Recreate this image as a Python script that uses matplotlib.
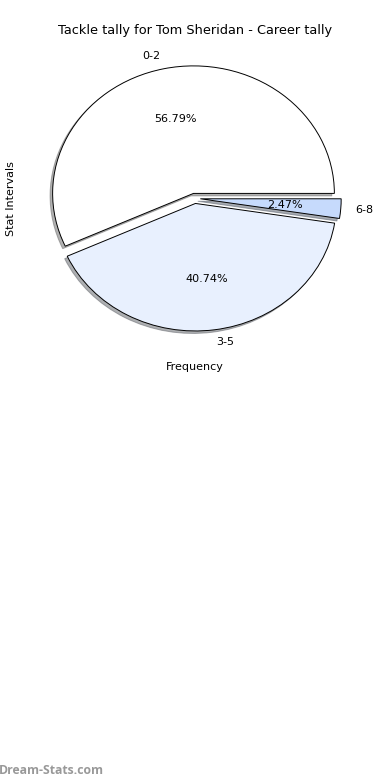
import matplotlib
matplotlib.use("Agg")
import matplotlib.pyplot as plt

# data
intervals = ['0-2', '3-5', '6-8']
counts = [46, 33, 2]
colours = ['#ffffff', '#e8f0fe', '#c6dafc']
explode = [0.04, 0.04, 0.04]

fig = plt.figure(figsize=(3.9, 7.8), dpi=100)
ax = fig.add_axes([0.0477, 0.5413, 0.903, 0.4087])

ax.pie(counts, labels=intervals, colors=colours, explode=explode,
       autopct='%1.2f%%', startangle=0,
       shadow={'ox': -0.013, 'oy': -0.014, 'shade': 0.6},
       wedgeprops={'edgecolor': 'black', 'linewidth': 0.7},
       textprops={'fontsize': 8})
ax.set_aspect('auto')
ax.set_xlim(-1.25, 1.25)
ax.set_ylim(-1.25, 1.25)

ax.set_title('Tackle tally for Tom Sheridan - Career tally', fontsize=9.3, pad=3.8)
ax.set_xlabel('Frequency', fontsize=8, labelpad=3.3)
ax.set_ylabel('Stat Intervals', fontsize=8, labelpad=1.8)

fig.text(-0.002, 0.008, 'Dream-Stats.com', fontsize=8.8, color='#999999',
         fontweight='bold', family='Open Sans')

fig.savefig('out.png', dpi=100)
